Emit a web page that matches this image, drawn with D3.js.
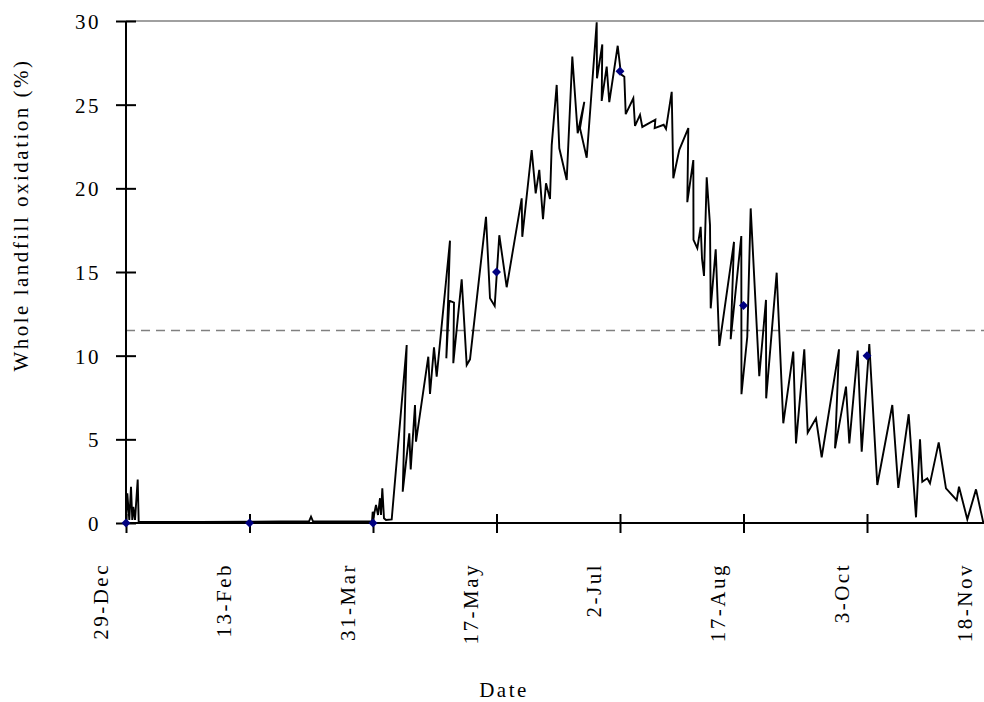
<!DOCTYPE html>
<html>
<head>
<meta charset="utf-8">
<script src="https://cdn.jsdelivr.net/npm/d3@7"></script>
<style>
  html, body { margin: 0; padding: 0; background: #fff; }
  svg { display: block; }
  text { font-family: "Liberation Serif", "Times New Roman", serif; fill: #000; }
</style>
</head>
<body>
<svg id="chart" width="984" height="702"></svg>
<script>
// Day offsets from 29-Dec and modelled whole-landfill oxidation (%)
const days = [
  0.0, 0.49, 1.24, 1.88, 2.36, 2.74, 3.38, 4.39, 4.76,
  12.76, 27.76, 46.15, 57.8, 68.66, 69.41, 70.16, 84.0, 92.3,
  92.55, 93.04, 93.79, 94.54, 95.29, 95.67, 96.16, 96.79, 97.54, 99.68,
  105.31, 103.81, 106.28, 106.81, 108.42, 108.8, 113.41, 114.05, 115.55, 116.56,
  121.55, 120.17, 121.29, 123.05, 122.79, 125.94, 127.82, 129.06,
  135.06, 136.56, 138.32, 140.05, 142.82, 148.45, 148.67, 152.2, 153.7,
  155.05, 156.44, 157.57, 159.07, 159.71, 161.58, 162.56, 165.34,
  167.44, 169.46, 171.94, 170.32, 172.84, 176.59, 176.7, 178.69, 178.46,
  180.34, 181.31, 184.47, 185.71, 186.95, 187.48, 190.33, 190.96,
  192.84, 193.7, 198.6, 198.34, 201.72, 202.59, 204.73, 205.33,
  207.58, 210.96, 210.58, 212.84, 212.9, 214.34, 215.6, 216.1, 216.85,
  217.86, 219.1, 219.36, 221.24, 222.59, 228.1, 226.86, 230.84, 230.9,
  233.08, 234.36, 237.58, 240.1, 240.17, 244.11, 246.59, 250.34, 251.36,
  254.47, 255.75, 258.86, 261.0, 267.49, 266.0, 270.12, 271.36, 274.51,
  276.01, 278.86, 281.86, 287.49, 289.74, 293.64, 296.38, 297.88, 298.74,
  300.62, 301.63, 304.9, 307.63, 311.65, 312.51, 315.63, 318.89, 321.63
];
const oxidation = [
  0, 1.77, 0.18, 2.17, 0.18, 0.97, 0.18, 2.6, 0.08,
  0.06, 0.07, 0.08, 0.1, 0.1, 0.38, 0.1, 0.1, 0.1,
  0.67, 0.48, 1.08, 0.48, 1.48, 0.48, 2.07, 0.28, 0.18, 0.22,
  10.64, 1.87, 5.36, 3.2, 7.05, 4.86, 9.94, 7.71, 10.5, 8.75,
  16.87, 9.84, 13.29, 13.17, 9.55, 14.56, 9.44, 9.78,
  18.3, 13.43, 12.97, 17.2, 14.09, 19.4, 17.1, 22.29, 19.7,
  21.1, 18.15, 20.3, 19.36, 22.58, 26.18, 22.39, 20.5,
  27.87, 23.29, 25.17, 23.59, 21.83, 29.92, 26.58, 28.6, 25.22,
  27.27, 25.15, 28.52, 26.81, 26.67, 24.43, 25.38, 23.73,
  24.39, 23.67, 24.1, 23.6, 23.8, 23.55, 25.77, 20.6,
  22.3, 23.6, 19.17, 21.69, 16.92, 16.42, 17.7, 15.8, 14.76,
  20.66, 17.8, 12.83, 16.36, 10.58, 16.8, 10.98, 17.15, 7.7,
  11.13, 18.8, 8.78, 13.33, 7.45, 14.96, 5.96, 10.24, 4.76,
  10.38, 5.4, 6.26, 3.93, 10.38, 4.46, 8.15, 4.76, 10.3,
  4.26, 10.7, 2.27, 7.05, 2.1, 6.5, 0.34, 5.0, 2.47,
  2.67, 2.37, 4.82, 2.07, 1.37, 2.17, 0.22, 2.01, 0.02
];

// Field measurements
const measuredDays = [0, 46.33, 92.67, 139, 185.33, 231.67, 278];
const measuredValues = [0, 0, 0, 15, 27, 13, 10];

// Annual average oxidation (%)
const meanOxidation = 11.5;

// Axis ticks
const tickDays = [0, 46.33, 92.67, 139, 185.33, 231.67, 278, 324.33];
const tickLabels = ["29-Dec", "13-Feb", "31-Mar", "17-May", "2-Jul", "17-Aug", "3-Oct", "18-Nov"];
const yTicks = [0, 5, 10, 15, 20, 25, 30];

const svg = d3.select("#chart");
const W = 984, H = 702;
const plotLeft = 126, plotRight = 990.5, plotTop = 21, plotBottom = 523;

const x = d3.scaleLinear().domain([0, 324.33]).range([plotLeft, plotRight]);
const y = d3.scaleLinear().domain([0, 30]).range([plotBottom, plotTop]);

const fontSize = 21, spacing = 2.5;
const serif = '"Liberation Serif", "Times New Roman", serif';

// Plot-area top border
svg.append("line")
  .attr("x1", plotLeft).attr("x2", W)
  .attr("y1", y(30)).attr("y2", y(30))
  .attr("stroke", "#808080").attr("stroke-width", 1.5);

// Average line
svg.append("line")
  .attr("x1", plotLeft).attr("x2", W)
  .attr("y1", y(meanOxidation)).attr("y2", y(meanOxidation))
  .attr("stroke", "#808080").attr("stroke-width", 1.5)
  .attr("stroke-dasharray", "9,6");

// Y axis
const yAxis = svg.append("g")
  .attr("transform", `translate(${plotLeft},0)`)
  .call(d3.axisLeft(y).tickValues(yTicks).tickFormat(d3.format("d")).tickSize(10).tickPadding(0));
yAxis.select(".domain").attr("stroke", "#000").attr("stroke-width", 2)
  .attr("d", `M0,${plotTop}V${plotBottom}`);
yAxis.selectAll(".tick line").attr("x1", 10).attr("x2", -10).attr("stroke", "#000").attr("stroke-width", 2);
yAxis.selectAll(".tick text")
  .attr("x", -25).attr("dy", "0.35em")
  .style("font-size", fontSize + "px").style("letter-spacing", spacing + "px")
  .style("font-family", serif)
  .attr("fill", "#000");

// X axis
const xAxis = svg.append("g")
  .attr("transform", `translate(0,${plotBottom})`)
  .call(d3.axisBottom(x).tickValues(tickDays).tickFormat((d, i) => tickLabels[i]).tickSize(10));
xAxis.select(".domain").attr("stroke", "#000").attr("stroke-width", 2)
  .attr("d", `M${plotLeft},0H${W}`);
xAxis.selectAll(".tick line").attr("y1", -9).attr("y2", 10).attr("stroke", "#000").attr("stroke-width", 2);
xAxis.selectAll(".tick text")
  .attr("text-anchor", "end")
  .attr("x", 0).attr("y", 0).attr("dy", null)
  .attr("transform", `translate(-19,40) rotate(-90)`)
  .style("font-size", fontSize + "px").style("letter-spacing", spacing + "px")
  .style("font-family", serif)
  .attr("fill", "#000");

// Oxidation series
const series = days.map((d, i) => [d, oxidation[i]]);
svg.append("path")
  .datum(series)
  .attr("fill", "none")
  .attr("stroke", "#000")
  .attr("stroke-width", 1.9)
  .attr("stroke-linejoin", "miter")
  .attr("d", d3.line().x(d => x(d[0])).y(d => y(d[1])));

// Measurement markers
const diamond = d3.symbol().type(d3.symbolSquare).size(40);
svg.append("g").selectAll("path")
  .data(measuredDays.map((d, i) => [d, measuredValues[i]]))
  .join("path")
  .attr("d", diamond)
  .attr("transform", d => `translate(${x(d[0])},${y(d[1])}) rotate(45)`)
  .attr("fill", "#000080");

// Axis titles
svg.append("text")
  .attr("transform", `translate(28,215) rotate(-90)`)
  .attr("text-anchor", "middle")
  .style("font-size", fontSize + "px").style("letter-spacing", spacing + "px")
  .text("Whole landfill oxidation (%)");

svg.append("text")
  .attr("x", 504).attr("y", 697)
  .attr("text-anchor", "middle")
  .style("font-size", fontSize + "px").style("letter-spacing", spacing + "px")
  .text("Date");
</script>
</body>
</html>
